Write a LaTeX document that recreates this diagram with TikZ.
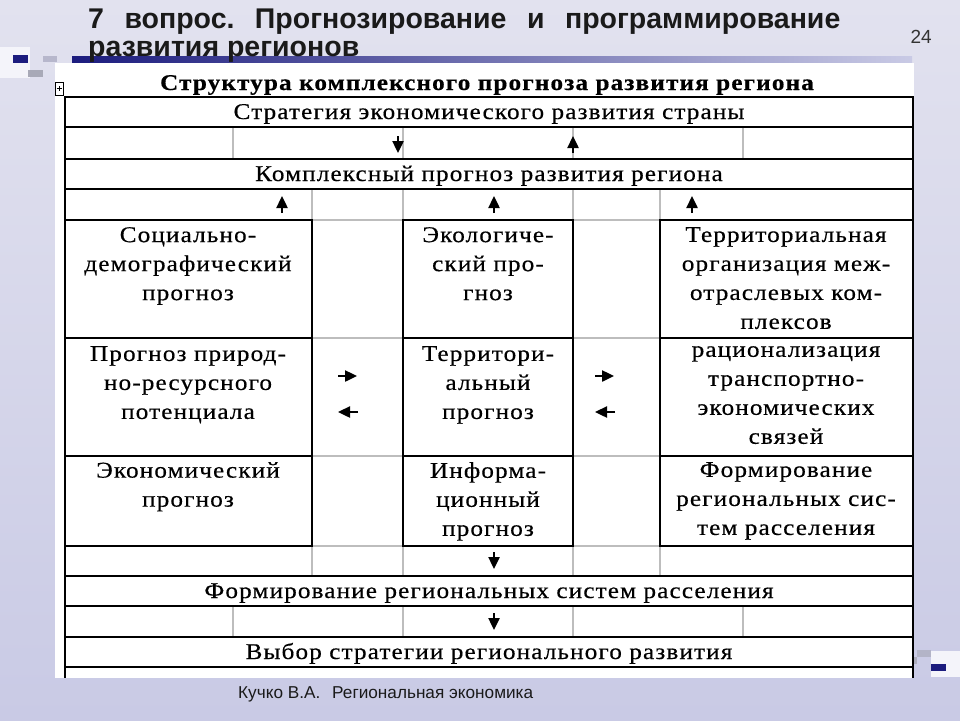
\documentclass[tikz,border=0pt]{standalone}
\usepackage{fontspec}
\setmainfont{Liberation Serif}
\newfontfamily\tabfont[FakeStretch=1.12, LetterSpace=5, FakeBold=0.45]{Liberation Serif}
\newfontfamily\slidefont{Liberation Sans}
\usetikzlibrary{arrows.meta, calc}
\definecolor{navy}{HTML}{1C1C7E}
\definecolor{lav}{HTML}{C9CAE5}
\definecolor{lavtop}{HTML}{E2E2EF}
\definecolor{gridgray}{HTML}{BDBDBD}
\definecolor{inkblack}{HTML}{1A1A1A}
\tikzset{
  boxline/.style={draw=black, line width=1.8pt},
  gapline/.style={draw=gridgray, line width=1.4pt},
  arr/.style={line width=2.4pt, -{Triangle[width=11pt,length=12pt]}},
  rowtxt/.style={anchor=base, inner sep=0pt, font=\tabfont\fontsize{22.5}{26}\selectfont},
  cell/.style={anchor=north, align=center, inner sep=0pt,
    font=\tabfont\fontsize{22.5}{29}\selectfont, execute at begin node=\strut},
}
\frenchspacing

\begin{document}
\begin{tikzpicture}[x=1pt, y=-1pt]
  \shade[top color=lavtop, bottom color=lav] (0,0) rectangle (960,720);
  \useasboundingbox (0,0) rectangle (960,720);
  % slide decoration
  \fill[white!80!lav] (0,47) rectangle (30,78);
  \fill[navy] (13,55) rectangle (28,63);
  \fill[gray!45!lav] (28,70) rectangle (43,77);
  \fill[gray!25!lav] (43,56) rectangle (57,62);
  \shade[left color=navy, right color=lav] (72,56) rectangle (912,62);
  \fill[gray!30!lav] (917,650) rectangle (931,657);
  \fill[white!80!lav] (931,651) rectangle (960,677);
  \fill[navy] (931,664) rectangle (946,671);
  \fill[gray!40!lav] (913,657) rectangle (917,664);
  % title
  \node[anchor=base west, inner sep=0pt, text=inkblack,
    font=\slidefont\bfseries\fontsize{28.5}{32}\selectfont] (title) at (88,28)
    {\makebox[752pt][s]{7 вопрос. Прогнозирование и программирование}};
  \node[anchor=base west, inner sep=0pt, text=inkblack,
    font=\slidefont\bfseries\fontsize{28.5}{32}\selectfont] (title2) at (88,56) {развития регионов};
  \node[anchor=base east, inner sep=0pt, text=black!80,
    font=\slidefont\fontsize{19}{22}\selectfont] (page) at (932,43) {24};
  % table sheet
  \fill[white] (55,63) rectangle (914,678);
  \draw[black, line width=0.6pt] (55,82) rectangle (63,95);
  \draw[black, line width=0.8pt] (56.5,88.5) -- (61.5,88.5) (59,86) -- (59,91);
  \node[rowtxt, font=\tabfont\bfseries\fontsize{22.5}{26}\selectfont] (head) at (487,90)
    {Структура комплексного прогноза развития региона};
  % gray inner lines
  \foreach \x in {233, 403, 573, 743} {
    \draw[gapline] (\x,127) -- (\x,159);
    \draw[gapline] (\x,606) -- (\x,637);
  }
  \foreach \x in {312, 403, 573, 660} {
    \draw[gapline] (\x,189) -- (\x,220);
    \draw[gapline] (\x,546) -- (\x,576);
  }
  \foreach \y in {220, 338, 456, 546} {
    \draw[gapline] (312,\y) -- (403,\y);
    \draw[gapline] (573,\y) -- (660,\y);
  }
  % black frame
  \foreach \a/\b in {97/127, 159/189, 576/606, 637/667}
    \draw[boxline] (65,\a) rectangle (913,\b);
  \foreach \a/\b in {127/159, 189/220, 546/576, 606/637, 667/678} {
    \draw[boxline] (65,\a) -- (65,\b);
    \draw[boxline] (913,\a) -- (913,\b);
  }
  \foreach \l/\r in {65/312, 403/573, 660/913}
    \foreach \a/\b in {220/338, 338/456, 456/546}
      \draw[boxline] (\l,\a) rectangle (\r,\b);
  % rows
  \node[rowtxt] (strat) at (489,119) {Стратегия экономического развития страны};
  \node[rowtxt] (kompl) at (489,181) {Комплексный прогноз развития региона};
  \node[rowtxt] (formsys) at (489,598) {Формирование региональных систем расселения};
  \node[rowtxt] (vybor) at (489,659) {Выбор стратегии регионального развития};
  % grid cells
  \node[cell] (soc) at (188,227) {Социально-\\демографический\\прогноз};
  \node[cell] (eko) at (488,227) {Экологиче-\\ский про-\\гноз};
  \node[cell] (terr) at (786,227) {Территориальная\\организация меж-\\отраслевых ком-\\плексов};
  \node[cell] (prir) at (188,346) {Прогноз природ-\\но-ресурсного\\потенциала};
  \node[cell] (terrp) at (488,346) {Территори-\\альный\\прогноз};
  \node[cell] (rac) at (786,346) {рационализация\\транспортно-\\экономических\\связей};
  \node[cell] (ekon) at (188,462) {Экономический\\прогноз};
  \node[cell] (info) at (488,462) {Информа-\\ционный\\прогноз};
  \node[cell] (form) at (786,462) {Формирование\\региональных сис-\\тем расселения};
  % arrows
  \coordinate (dn1) at (398,136);
  \coordinate (up1) at (573,153);
  \draw[arr] (dn1) -- ++(0,17);
  \draw[arr] (up1) -- ++(0,-17);
  \foreach \x [count=\i] in {282, 494, 692} {
    \coordinate (up2\i) at (\x,213);
    \draw[arr] (up2\i) -- ++(0,-17);
  }
  \coordinate (dn3) at (494,552);
  \coordinate (dn4) at (494,613);
  \draw[arr] (dn3) -- ++(0,17);
  \draw[arr] (dn4) -- ++(0,17);
  \foreach \x [count=\i] in {338, 595} {
    \coordinate (rt\i) at (\x,376);
    \coordinate (lt\i) at (\x+20,412);
    \draw[arr] (rt\i) -- ++(19,0);
    \draw[arr] (lt\i) -- ++(-20,0);
  }
  % footer
  \node[anchor=base west, inner sep=0pt, text=inkblack,
    font=\slidefont\fontsize{17.2}{20}\selectfont] (author) at (238,698) {Кучко В.А.};
  \node[anchor=base west, inner sep=0pt, text=inkblack,
    font=\slidefont\fontsize{17.2}{20}\selectfont] (course) at (332,698) {Региональная экономика};
\end{tikzpicture}
\end{document}
